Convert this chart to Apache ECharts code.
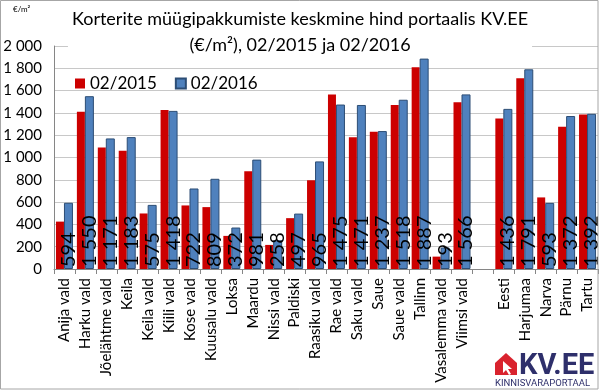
<!DOCTYPE html>
<html>
<head>
<meta charset="utf-8">
<script src="https://cdn.jsdelivr.net/npm/echarts@6/dist/echarts.min.js"></script>
<style>html,body{margin:0;padding:0;background:#fff}#c{width:600px;height:392px}</style>
</head>
<body>
<div id="c"></div>
<script>
const categories = ['Anija vald','Harku vald','Jõelähtme vald','Keila','Keila vald','Kiili vald','Kose vald','Kuusalu vald','Loksa','Maardu','Nissi vald','Paldiski','Raasiku vald','Rae vald','Saku vald','Saue','Saue vald','Tallinn','Vasalemma vald','Viimsi vald','','Eesti','Harjumaa','Narva','Pärnu','Tartu'];
const values2015 = [425,1410,1090,1060,498,1425,570,555,297,877,216,456,795,1565,1182,1230,1470,1810,111,1495,null,1350,1710,642,1276,1385];
const values2016 = [594,1550,1171,1183,575,1418,722,809,372,981,258,497,965,1475,1471,1237,1518,1887,193,1566,null,1436,1791,593,1372,1392];
const seriesNames = ['02/2015','02/2016'];
const titleLines = ['Korterite müügipakkumiste keskmine hind portaalis KV.EE','(€/m²), 02/2015 ja 02/2016'];

const FONT = 'Lato';
function fmt(v){ return String(v).replace(/\B(?=(\d{3})+(?!\d))/g,' '); }

const chart = echarts.init(document.getElementById('c'), null, {renderer:'canvas'});
chart.setOption({
  animation:false,
  backgroundColor:'#fff',
  textStyle:{fontFamily:FONT},
  title:{
    text:titleLines.join('\n'),
    left:'center', top:4,
    padding:[2,4,2,4],
    backgroundColor:'#fff',
    z:1,
    textStyle:{fontFamily:FONT,fontSize:18,fontWeight:'normal',color:'#000',lineHeight:26}
  },
  legend:{
    data:seriesNames,
    left:70, top:70,
    itemWidth:10, itemHeight:10, itemGap:18,
    icon:'rect',
    textStyle:{fontFamily:FONT,fontSize:17,color:'#000'}
  },
  grid:{left:54, right:2, top:46, bottom:123, containLabel:false},
  xAxis:{
    type:'category',
    data:categories,
    axisLine:{lineStyle:{color:'#868686'}},
    axisTick:{show:true,length:5,lineStyle:{color:'#868686'}},
    axisLabel:{rotate:90,interval:0,fontFamily:FONT,fontSize:15,color:'#000',margin:9}
  },
  yAxis:{
    type:'value', min:0, max:2000, interval:200,
    axisLine:{show:true,lineStyle:{color:'#868686'}},
    axisTick:{show:false},
    splitLine:{lineStyle:{color:'#c8c8c8'}},
    axisLabel:{fontFamily:FONT,fontSize:15,color:'#000',margin:12,formatter:fmt}
  },
  series:[
    {name:seriesNames[0],type:'bar',data:values2015,barWidth:8,barGap:'0%',z:3,
     itemStyle:{color:'#cc0000'}},
    {name:seriesNames[1],type:'bar',data:values2016,barWidth:9,z:3,
     itemStyle:{color:'#4f81bd',borderColor:'#2c4d75',borderWidth:1},
     label:{show:true,position:'insideBottom',rotate:90,align:'left',verticalAlign:'middle',distance:2,
       fontFamily:FONT,fontSize:20,color:'#000',formatter:p=>fmt(p.value)}}
  ],
  graphic:[
    {type:'rect',shape:{x:0.5,y:0.5,width:597.5,height:388.5},style:{fill:'none',stroke:'#a6a6a6',lineWidth:1},silent:true,z:100},
    {type:'text',left:13,top:5,style:{text:'€/m²',fontFamily:FONT,fontSize:8,fill:'#000'}},
    {type:'polygon',shape:{points:[[495,363],[506,353],[517,363],[517,375],[495,375]]},style:{fill:'#d9232e'},z:100},
    {type:'polygon',shape:{points:[[503,361],[503,373],[506,370],[509,375],[511,374],[508,369],[512,369]]},style:{fill:'#fff'},z:101},
    {type:'text',x:519,y:352,style:{text:'KV.EE',fontFamily:'Roboto',fontWeight:'bold',fontSize:29,fill:'#2e2f6b'},z:100},
    {type:'text',x:495,y:379,style:{text:'KINNISVARAPORTAAL',fontFamily:'Roboto',fontSize:9.5,fill:'#2e2f6b'},z:100}
  ]
});
</script>
</body>
</html>
